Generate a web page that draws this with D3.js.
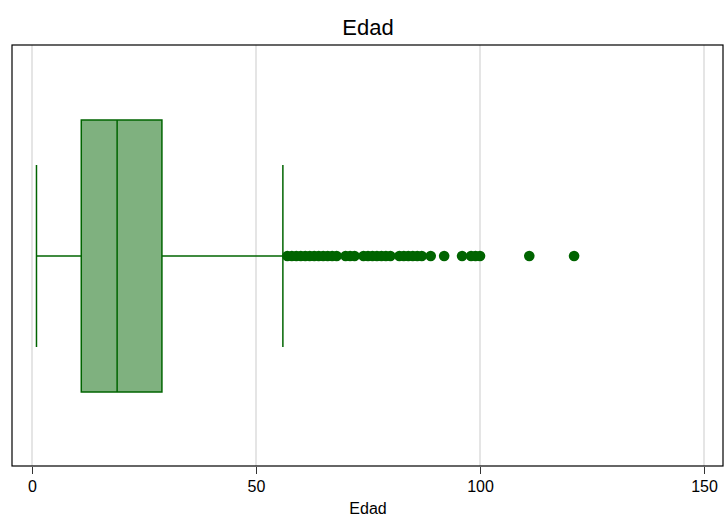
<!DOCTYPE html>
<html>
<head>
<meta charset="utf-8">
<script src="https://cdn.jsdelivr.net/npm/d3@7"></script>
<style>
  body { margin: 0; background: #fff; }
  text { font-family: "Liberation Sans", Arial, sans-serif; }
</style>
</head>
<body>
<script>
// box summary (Edad)
const stats = { min: 1, q1: 11, median: 19, q3: 29, max: 56 };
const outliers = [57, 58, 59, 60, 61, 62, 63, 64, 65, 66, 67, 68, 70, 71, 72,
    74, 75, 76, 77, 78, 79, 80, 82, 83, 84, 85, 86, 87, 89, 92, 96, 98, 99, 100, 111, 121];
const tickValues = [0, 50, 100, 150];

const width = 724, height = 519;
const frame = { left: 12, right: 723, top: 45, bottom: 466 };
const green = "#006400";

const svg = d3.select("body").append("svg")
    .attr("width", width).attr("height", height);

const x = d3.scaleLinear().domain([0, 150]).range([32, 704]);
const cy = 256;

// grid
svg.append("g").selectAll("line").data(tickValues).enter().append("line")
    .attr("x1", d => x(d)).attr("x2", d => x(d))
    .attr("y1", frame.top).attr("y2", frame.bottom)
    .attr("stroke", "#dcdcdc").attr("stroke-width", 1.5);

// whiskers
const g = svg.append("g");
g.append("line").attr("x1", x(stats.min)).attr("x2", x(stats.q1))
    .attr("y1", cy).attr("y2", cy).attr("stroke", green).attr("stroke-width", 1.5);
g.append("line").attr("x1", x(stats.q3)).attr("x2", x(stats.max))
    .attr("y1", cy).attr("y2", cy).attr("stroke", green).attr("stroke-width", 1.5);
[stats.min, stats.max].forEach(v => {
    g.append("line").attr("x1", x(v)).attr("x2", x(v))
        .attr("y1", 165).attr("y2", 347).attr("stroke", green).attr("stroke-width", 1.5);
});

// box
g.append("rect")
    .attr("x", x(stats.q1)).attr("y", 120)
    .attr("width", x(stats.q3) - x(stats.q1)).attr("height", 272)
    .attr("fill", "#7fb17f").attr("stroke", green).attr("stroke-width", 1.5);
g.append("line").attr("x1", x(stats.median)).attr("x2", x(stats.median))
    .attr("y1", 120).attr("y2", 392).attr("stroke", green).attr("stroke-width", 1.5);

// outliers
g.selectAll("circle").data(outliers).enter().append("circle")
    .attr("cx", d => x(d)).attr("cy", cy).attr("r", 5.3)
    .attr("fill", green);

// frame
svg.append("rect")
    .attr("x", frame.left).attr("y", frame.top)
    .attr("width", frame.right - frame.left).attr("height", frame.bottom - frame.top)
    .attr("fill", "none").attr("stroke", "#000").attr("stroke-width", 1.2);

// axis
const axis = svg.append("g")
    .attr("transform", `translate(0,${frame.bottom + 1})`)
    .call(d3.axisBottom(x).tickValues(tickValues).tickSize(7).tickPadding(7).tickFormat(d3.format("d")));
axis.select(".domain").remove();
axis.selectAll(".tick line").attr("stroke", "#333");
axis.selectAll("text").attr("font-size", 16).attr("fill", "#000")
    .style("font-family", "'Liberation Sans', Arial, sans-serif");

svg.append("text").attr("x", 368).attr("y", 514)
    .attr("text-anchor", "middle").attr("font-size", 16).text("Edad");

svg.append("text").attr("x", 368).attr("y", 35)
    .attr("text-anchor", "middle").attr("font-size", 22).text("Edad");
</script>
</body>
</html>
